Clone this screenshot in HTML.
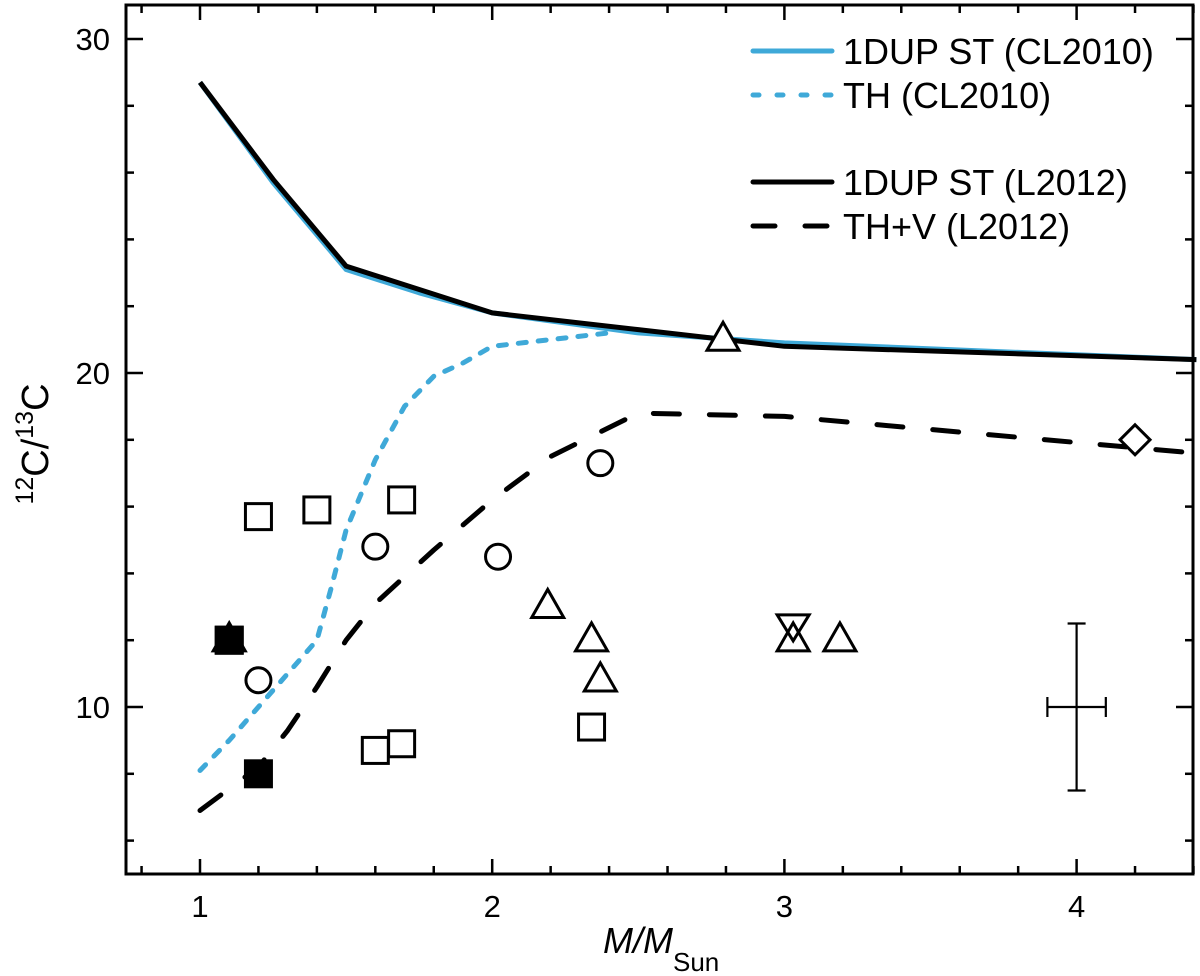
<!DOCTYPE html>
<html><head><meta charset="utf-8"><style>
html,body{margin:0;padding:0;background:#fff;}
svg{display:block;font-family:"Liberation Sans",Arial,sans-serif;}
</style></head><body>
<svg id="chart" width="1200" height="976" viewBox="0 0 1200 976" xmlns="http://www.w3.org/2000/svg"></svg>
<script>
const xTicks=[1,2,3,4];
const yTicks=[10,20,30];
const st2010X=[1,1.25,1.5,1.75,2,2.5,3,4.41];
const st2010Y=[28.7,25.7,23.1,22.4,21.8,21.2,20.9,20.4];
const st2012X=[1,1.25,1.5,2,2.5,3,4.41];
const st2012Y=[28.7,25.8,23.2,21.8,21.3,20.8,20.4];
const th2010X=[1,1.1,1.2,1.3,1.4,1.45,1.5,1.6,1.7,1.8,1.9,2,2.2,2.4];
const th2010Y=[8.1,9.0,10.0,11.0,12.0,13.6,15.3,17.4,19.0,19.9,20.3,20.8,21.0,21.2];
const thv2012X=[1,1.2,1.3,1.4,1.5,1.6,1.7,1.8,2,2.2,2.5,3,4.41];
const thv2012Y=[6.9,8.2,9.3,10.6,12.0,13.1,13.9,14.7,16.2,17.5,18.8,18.7,17.6];
const sqX=[1.2,1.4,1.69,1.6,1.69,2.34,1.1];
const sqY=[15.7,15.9,16.2,8.7,8.9,9.4,12.0];
const fsqX=[1.2,1.1];
const fsqY=[8.0,12.0];
const circX=[1.2,1.6,2.02,2.37];
const circY=[10.8,14.8,14.5,17.3];
const triX=[2.19,2.34,2.37,2.79,3.03,3.19];
const triY=[13.1,12.1,10.9,21.1,12.1,12.1];
const ftriX=[1.1];
const ftriY=[12.1];
const itriX=[3.03];
const itriY=[12.4];
const diaX=[4.2];
const diaY=[18.0];
const errX=[4.0],errY=[10.0],errDX=[0.1],errDY=[2.5];

const NS="http://www.w3.org/2000/svg";
const svg=document.getElementById('chart');
const L=126,R=1193,T=5,B=874;
const X=v=>200+(v-1)*292.2;
const Y=v=>707-(v-10)*33.4;
function el(tag,attrs,parent){const e=document.createElementNS(NS,tag);for(const k in attrs)e.setAttribute(k,attrs[k]);(parent||svg).appendChild(e);return e;}

const frame=el('rect',{x:L,y:T,width:R-L,height:B-T,fill:'none',stroke:'#000','stroke-width':3});



for(let v=0.8;v<=4.41;v+=0.2){
  const major=Math.abs(v-Math.round(v))<1e-6;
  const len=major?15:8;const x=X(v);
  const t1=el('line',{x1:x,x2:x,y1:B,y2:B-len,stroke:'#000','stroke-width':2.5});
  
  
  const t2=el('line',{x1:x,x2:x,y1:T,y2:T+len,stroke:'#000','stroke-width':2.5});
  
  
}
xTicks.forEach(v=>{
  const t=el('text',{x:X(v),y:917,'font-size':31,'text-anchor':'middle'});t.textContent=v;
  
  
});
for(let v=6;v<=30;v+=2){
  const major=v%10===0;const len=major?17:8;const y=Y(v);
  const t1=el('line',{x1:L,x2:L+len,y1:y,y2:y,stroke:'#000','stroke-width':2.5});
  
  
  const t2=el('line',{x1:R,x2:R-len,y1:y,y2:y,stroke:'#000','stroke-width':2.5});
  
  
}
yTicks.forEach(v=>{
  const t=el('text',{x:110,y:Y(v)+11,'font-size':31,'text-anchor':'end'});t.textContent=v;
  
  
});
const yt=el('text',{x:0,y:0,'font-size':38,'text-anchor':'middle',transform:'translate(48,444) rotate(-90)'});
yt.innerHTML='<tspan font-size="25" dy="-15">12</tspan><tspan dy="15">C/</tspan><tspan font-size="25" dy="-15">13</tspan><tspan dy="15">C</tspan>';


const xt=el('text',{x:603,y:953,'font-size':36,'text-anchor':'start'});
xt.innerHTML='<tspan font-style="italic">M/M</tspan><tspan font-size="26" dy="18">Sun</tspan>';



function path(xs,ys,stroke,w,dash,name){
  const d=xs.map((x,i)=>(i?'L':'M')+X(x).toFixed(1)+','+Y(ys[i]).toFixed(1)).join(' ');
  const p=el('path',{d:d,fill:'none',stroke:stroke,'stroke-width':w,'stroke-dasharray':dash||'none','stroke-linecap':dash?'round':'butt','stroke-linejoin':'round'});
  
  
}
path(st2010X,st2010Y,'#3fa9d8',5,null,'line-1dup-cl2010');
path(st2012X,st2012Y,'#000',5,null,'line-1dup-l2012');
path(th2010X,th2010Y,'#3fa9d8',5,'8 12','line-th-cl2010');
path(thv2012X,thv2012Y,'#000',5,'26 30','line-thv-l2012');

const S=13;
function sq(x,y,fill,name){const r=el('rect',{x:X(x)-S,y:Y(y)-S,width:2*S,height:2*S,fill:fill,stroke:'#000','stroke-width':3});
  }
function tri(x,y,fill,inv,name){const cx=X(x),cy=Y(y);const h=14;
  const pts=inv?`${cx-16},${cy-h} ${cx+16},${cy-h} ${cx},${cy+h}`:`${cx-16},${cy+h} ${cx+16},${cy+h} ${cx},${cy-h}`;
  const p=el('polygon',{points:pts,fill:fill,stroke:'#000','stroke-width':3});
  }
sqX.forEach((x,i)=>sq(x,sqY[i],'#fff','square-point'));
fsqX.forEach((x,i)=>sq(x,fsqY[i],'#000','filled-square-point'));
ftriX.forEach((x,i)=>tri(x,ftriY[i],'#000',false,'filled-triangle-point'));
circX.forEach((x,i)=>{const c=el('circle',{cx:X(x),cy:Y(circY[i]),r:12.5,fill:'#fff',stroke:'#000','stroke-width':3});
  });
triX.forEach((x,i)=>tri(x,triY[i],'#fff',false,'triangle-point'));
itriX.forEach((x,i)=>{const cx=X(x),cy=Y(itriY[i]);
  const p=el('polygon',{points:`${cx-16},${cy-12} ${cx+16},${cy-12} ${cx},${cy+14}`,fill:'none',stroke:'#000','stroke-width':3});
  });
diaX.forEach((x,i)=>{const cx=X(x),cy=Y(diaY[i]);
  const p=el('polygon',{points:`${cx},${cy-15} ${cx+15},${cy} ${cx},${cy+15} ${cx-15},${cy}`,fill:'#fff',stroke:'#000','stroke-width':3});
  });
errX.forEach((x,i)=>{
  const g=el('g',{stroke:'#000','stroke-width':2.2});
  
  
  const cx=X(x),cy=Y(errY[i]),x1=X(x-errDX[i]),x2=X(x+errDX[i]),y1=Y(errY[i]+errDY[i]),y2=Y(errY[i]-errDY[i]);
  el('line',{x1:cx,x2:cx,y1:y1,y2:y2},g);
  el('line',{x1:x1,x2:x2,y1:cy,y2:cy},g);
  el('line',{x1:cx-9,x2:cx+9,y1:y1,y2:y1},g);
  el('line',{x1:cx-9,x2:cx+9,y1:y2,y2:y2},g);
  el('line',{x1:x1,x2:x1,y1:cy-10,y2:cy+10},g);
  el('line',{x1:x2,x2:x2,y1:cy-10,y2:cy+10},g);
});

const leg=[['1DUP ST (CL2010)','#3fa9d8',null,51],['TH (CL2010)','#3fa9d8','6 18',95],['1DUP ST (L2012)','#000',null,182],['TH+V (L2012)','#000','22 30',226]];
leg.forEach(l=>{
  const g=el('g',{});
  
  
  el('line',{x1:753,x2:832,y1:l[3],y2:l[3],stroke:l[1],'stroke-width':5,'stroke-dasharray':l[2]||'none','stroke-linecap':'round'},g);
  const t=el('text',{x:843,y:l[3]+13,'font-size':36},g);t.textContent=l[0];
});
</script>
</body></html>
